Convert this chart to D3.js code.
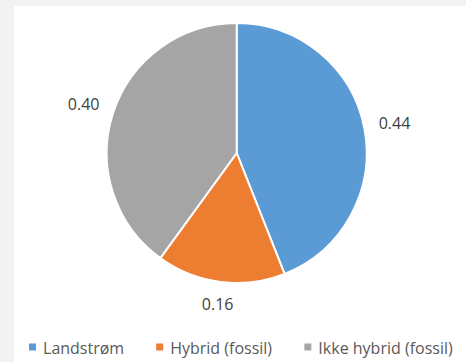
<!DOCTYPE html>
<html>
<head>
<meta charset="utf-8">
<script src="https://cdn.jsdelivr.net/npm/d3@7"></script>
<style>
  body { margin: 0; background: #f2f2f2; }
  svg { display: block; }
  text { font-family: "Open Sans", sans-serif; }
</style>
</head>
<body>
<div id="chart"></div>
<script>
var categories = ["Landstrøm", "Hybrid (fossil)", "Ikke hybrid (fossil)"];
var values = [0.44, 0.16, 0.40];
var valueLabels = ["0.44", "0.16", "0.40"];
var colors = ["#5B9BD5", "#ED7D31", "#A5A5A5"];

var width = 466;
var height = 362;
var cx = 236.7, cy = 153;
var radius = 130;
var labelGap = 14;

var svg = d3.select("#chart").append("svg")
    .attr("width", width)
    .attr("height", height);

// white chart area
svg.append("rect")
    .attr("x", 14).attr("y", 6)
    .attr("width", width - 14).attr("height", height - 6)
    .attr("fill", "#ffffff");

var data = categories.map((c, i) => ({name: c, value: values[i], label: valueLabels[i], color: colors[i]}));

var pie = d3.pie().sort(null).value(d => d.value);
var arc = d3.arc().innerRadius(0).outerRadius(radius);

var g = svg.append("g").attr("transform", `translate(${cx},${cy})`);

var arcs = pie(data);

g.selectAll("path")
    .data(arcs).enter()
    .append("path")
    .attr("d", arc)
    .attr("fill", d => d.data.color)
    .attr("stroke", "#ffffff")
    .attr("stroke-width", 2)
    .attr("stroke-linejoin", "round");

// data labels placed outside, bounding box just clear of the edge
g.selectAll("text.lbl")
    .data(arcs).enter()
    .append("text")
    .attr("class", "lbl")
    .attr("font-size", "16px")
    .attr("fill", "#404040")
    .attr("text-anchor", "middle")
    .attr("dominant-baseline", "central")
    .text(d => d.data.label)
    .each(function(d) {
        var bb = this.getBBox();
        var a = (d.startAngle + d.endAngle) / 2;
        var sx = Math.sin(a), sy = -Math.cos(a);
        var off = Math.abs(sx) * bb.width / 2 + Math.abs(sy) * 6;
        var rr = radius + labelGap + off;
        d3.select(this).attr("x", sx * rr).attr("y", sy * rr + 0.5);
    });

// legend
var legend = svg.append("g");
var items = legend.selectAll("g")
    .data(data).enter()
    .append("g");

items.append("rect")
    .attr("width", 7).attr("height", 7)
    .attr("y", -4)
    .attr("fill", d => d.color);

items.append("text")
    .attr("x", 14)
    .attr("y", 0)
    .attr("dominant-baseline", "central")
    .attr("font-size", "16px")
    .attr("fill", "#595959")
    .text(d => d.name);

var gap = 32;
var xpos = 0;
items.each(function() {
    var w = this.getBBox().width;
    d3.select(this).attr("transform", `translate(${xpos},0)`);
    xpos += w + gap;
});
var totalW = xpos - gap;
legend.attr("transform", `translate(${241 - totalW / 2},347.5)`);
</script>
</body>
</html>
